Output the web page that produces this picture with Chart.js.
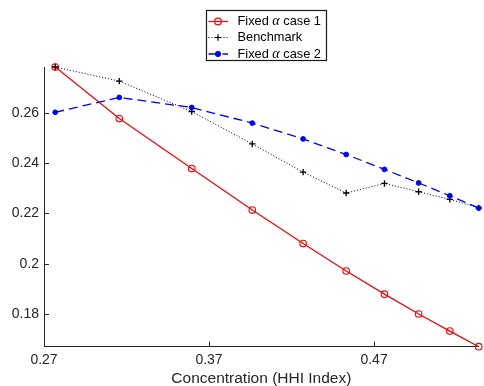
<!DOCTYPE html>
<html>
<head>
<meta charset="utf-8">
<script src="https://cdn.jsdelivr.net/npm/chart.js@4/dist/chart.umd.min.js"></script>
<style>
  body { margin: 0; background: #fff; }
  canvas { display: block; }
</style>
</head>
<body>
<canvas id="hhi-chart" width="484" height="386"></canvas>
<script>
var hhi = [0.2768, 0.3156, 0.3595, 0.3962, 0.4270, 0.4531, 0.4763, 0.4970, 0.5159, 0.5334];
var case1 = [0.2782, 0.2577, 0.2378, 0.2213, 0.2080, 0.1971, 0.1879, 0.1800, 0.1732, 0.1670];
var benchmark = [0.2782, 0.2726, 0.2605, 0.2476, 0.2364, 0.2281, 0.2319, 0.2286, 0.2256, 0.2222];
var case2 = [0.2602, 0.2661, 0.2621, 0.2559, 0.2496, 0.2434, 0.2375, 0.2321, 0.2270, 0.2221];

var seriesLabels = ['Fixed α case 1', 'Benchmark', 'Fixed α case 2'];
var xTicks = [0.27, 0.37, 0.47];
var yTicks = [0.18, 0.2, 0.22, 0.24, 0.26];
var xTitle = 'Concentration (HHI Index)';

var axisColor = '#262626';
var sans = '"Liberation Sans", Arial, Helvetica, sans-serif';

function toPoints(xs, ys) {
    var pts = [];
    for (var i = 0; i < xs.length; i++) {
        pts.push({ x: xs[i], y: ys[i] });
    }
    return pts;
}

// inward tick marks, matlab style
var tickMarks = {
    id: 'tickMarks',
    afterDraw: function(chart) {
        var ctx = chart.ctx;
        var area = chart.chartArea;
        var xs = chart.scales.x;
        var ys = chart.scales.y;
        ctx.save();
        ctx.strokeStyle = axisColor;
        ctx.lineWidth = 1;
        ctx.beginPath();
        xTicks.forEach(function(v) {
            var px = Math.round(xs.getPixelForValue(v)) + 0.5;
            ctx.moveTo(px, area.bottom);
            ctx.lineTo(px, area.bottom - 5);
        });
        yTicks.forEach(function(v) {
            var py = Math.round(ys.getPixelForValue(v)) + 0.5;
            ctx.moveTo(area.left, py);
            ctx.lineTo(area.left + 5, py);
        });
        ctx.stroke();
        ctx.restore();
    }
};

// boxed legend with line samples and markers
var boxLegend = {
    id: 'boxLegend',
    afterDraw: function(chart) {
        var ctx = chart.ctx;
        var box = { left: 206.5, top: 10.5, right: 326.5, bottom: 60.5 };
        var rows = [21.5, 37.5, 54];
        ctx.save();
        ctx.fillStyle = '#fff';
        ctx.fillRect(box.left, box.top, box.right - box.left, box.bottom - box.top);
        ctx.strokeStyle = '#1a1a1a';
        ctx.lineWidth = 1.2;
        ctx.strokeRect(box.left, box.top, box.right - box.left, box.bottom - box.top);

        chart.data.datasets.forEach(function(ds, i) {
            var y = rows[i];
            ctx.save();
            ctx.strokeStyle = ds.borderColor;
            ctx.lineWidth = ds.borderWidth;
            ctx.setLineDash(ds.legendDash || []);
            ctx.beginPath();
            ctx.moveTo(208.5, y);
            ctx.lineTo(228, y);
            ctx.stroke();
            ctx.restore();

            ctx.save();
            ctx.strokeStyle = ds.pointBorderColor;
            ctx.fillStyle = ds.pointBackgroundColor;
            Chart.helpers.drawPoint(ctx, {
                pointStyle: ds.pointStyle,
                radius: ds.pointRadius,
                borderWidth: ds.pointBorderWidth,
                rotation: 0
            }, 218, y);
            ctx.restore();

            // alpha in italic serif, the rest in sans
            var parts = seriesLabels[i].split('α');
            var x = 237.5;
            ctx.fillStyle = '#000';
            ctx.textBaseline = 'middle';
            ctx.textAlign = 'left';
            for (var k = 0; k < parts.length; k++) {
                ctx.font = '12.8px ' + sans;
                ctx.fillText(parts[k], x, y);
                x += ctx.measureText(parts[k]).width;
                if (k < parts.length - 1) {
                    ctx.font = 'italic 14px "Liberation Serif", "DejaVu Serif", serif';
                    ctx.fillText('α', x, y);
                    x += ctx.measureText('α').width;
                }
            }
        });
        ctx.restore();
    }
};

var chart = new Chart(document.getElementById('hhi-chart'), {
    type: 'line',
    data: {
        datasets: [{
            label: seriesLabels[0],
            data: toPoints(hhi, case1),
            borderColor: '#ff0000',
            borderWidth: 1.2,
            pointStyle: 'circle',
            pointRadius: 3.3,
            pointBorderWidth: 1.1,
            pointBorderColor: '#ff0000',
            pointBackgroundColor: 'rgba(255,255,255,0)',
            order: 2
        }, {
            label: seriesLabels[1],
            data: toPoints(hhi, benchmark),
            borderColor: '#000000',
            borderWidth: 1,
            borderDash: [1, 2],
            legendDash: [1, 2],
            pointStyle: 'cross',
            pointRadius: 3.2,
            pointBorderWidth: 1.3,
            pointBorderColor: '#000000',
            pointBackgroundColor: '#000000',
            order: 1
        }, {
            label: seriesLabels[2],
            data: toPoints(hhi, case2),
            borderColor: '#0000ff',
            borderWidth: 1.3,
            borderDash: [9, 5],
            legendDash: [9, 5],
            pointStyle: 'circle',
            pointRadius: 2.4,
            pointBorderWidth: 1,
            pointBorderColor: '#0000ff',
            pointBackgroundColor: '#0000ff',
            order: 0
        }]
    },
    options: {
        responsive: false,
        animation: false,
        devicePixelRatio: 1,
        clip: false,
        layout: { padding: { top: 67, right: 4, left: 0, bottom: 0 } },
        plugins: {
            legend: { display: false },
            tooltip: { enabled: false }
        },
        elements: { line: { tension: 0, fill: false } },
        scales: {
            x: {
                type: 'linear',
                min: 0.27,
                max: 0.5334,
                afterBuildTicks: function(scale) {
                    scale.ticks = xTicks.map(function(v) { return { value: v }; });
                },
                afterFit: function(scale) { scale.height = 39.3; },
                grid: { display: false, drawTicks: false },
                border: { display: true, color: axisColor, width: 1 },
                ticks: {
                    padding: 5,
                    color: axisColor,
                    maxRotation: 0,
                    font: { family: sans, size: 14 },
                    callback: function(v) { return String(Number(v.toFixed(2))); }
                },
                title: {
                    display: true,
                    text: xTitle,
                    color: axisColor,
                    font: { family: sans, size: 15.5, lineHeight: 1.2 },
                    padding: { top: 0, bottom: -2 }
                }
            },
            y: {
                type: 'linear',
                min: 0.167,
                max: 0.2782,
                afterBuildTicks: function(scale) {
                    scale.ticks = yTicks.map(function(v) { return { value: v }; });
                },
                afterFit: function(scale) { scale.width = 44; },
                grid: { display: false, drawTicks: false },
                border: { display: true, color: axisColor, width: 1 },
                ticks: {
                    padding: 5,
                    color: axisColor,
                    font: { family: sans, size: 14 },
                    callback: function(v) { return String(Number(v.toFixed(2))); }
                }
            }
        }
    },
    plugins: [tickMarks, boxLegend]
});
</script>
</body>
</html>
